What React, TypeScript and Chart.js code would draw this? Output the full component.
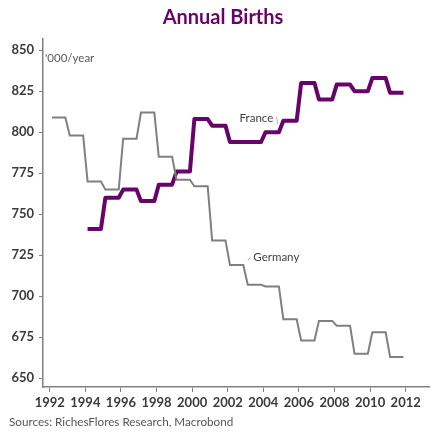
import React, { useEffect, useRef } from "react";
import { Chart, registerables } from "chart.js";

Chart.register(...registerables);

// Annual births, thousands per year
const germanyYears = [1992, 1993, 1994, 1995, 1996, 1997, 1998, 1999, 2000, 2001, 2002, 2003, 2004, 2005, 2006, 2007, 2008, 2009, 2010, 2011];
const germanyBirths = [809, 798, 770, 765, 796, 812, 785, 771, 767, 734, 719, 707, 706, 686, 673, 685, 682, 665, 678, 663];

const franceYears = [1994, 1995, 1996, 1997, 1998, 1999, 2000, 2001, 2002, 2003, 2004, 2005, 2006, 2007, 2008, 2009, 2010, 2011];
const franceBirths = [741, 760, 765, 758, 768, 776, 808, 804, 794, 794, 800, 807, 830, 820, 829, 825, 833, 824];

const yTicks = [650, 675, 700, 725, 750, 775, 800, 825, 850];
const xTicks = [1992, 1994, 1996, 1998, 2000, 2002, 2004, 2006, 2008, 2010, 2012];

// Each annual figure is held across the four quarters of its year
const quarterOffsets = [0.125, 0.375, 0.625, 0.875];
function quarterly(years: number[], values: number[]) {
  const pts: { x: number; y: number }[] = [];
  years.forEach((yr, i) => {
    quarterOffsets.forEach((q) => pts.push({ x: yr + q, y: values[i] }));
  });
  return pts;
}

const PURPLE = "#680469";
const GREY = "#808080";
const FONT = "Lato, 'Open Sans', sans-serif";

const labelsPlugin = {
  id: "labels",
  afterDraw(chart: any) {
    const { ctx, chartArea, scales } = chart;
    const x = scales.x;
    const y = scales.y;
    ctx.save();

    // Title
    ctx.fillStyle = PURPLE;
    ctx.font = `bold 20px ${FONT}`;
    ctx.textAlign = "center";
    ctx.textBaseline = "middle";
    ctx.fillText("Annual Births", 223, 18);

    // Source line
    ctx.fillStyle = "#555555";
    ctx.font = `11.7px ${FONT}`;
    ctx.textAlign = "left";
    ctx.fillText("Sources: RichesFlores Research, Macrobond", 9, 422);

    // Unit
    ctx.fillStyle = "#595959";
    ctx.font = `11.5px ${FONT}`;
    ctx.fillText("'000/year", chartArea.left + 2, chartArea.top + 19);

    // Series labels with leader lines
    ctx.font = `11.5px ${FONT}`;
    ctx.fillStyle = "#404040";
    ctx.textAlign = "right";
    ctx.fillText("France", x.getPixelForValue(2004.56), y.getPixelForValue(808.3));
    ctx.textAlign = "left";
    ctx.fillText("Germany", x.getPixelForValue(2003.44), y.getPixelForValue(723.8));

    ctx.strokeStyle = "#b0b0b0";
    ctx.lineWidth = 1;
    ctx.beginPath();
    ctx.moveTo(x.getPixelForValue(2004.75), y.getPixelForValue(809.5));
    ctx.lineTo(x.getPixelForValue(2004.8), y.getPixelForValue(805));
    ctx.moveTo(x.getPixelForValue(2003.12), y.getPixelForValue(721.9));
    ctx.lineTo(x.getPixelForValue(2003.29), y.getPixelForValue(723.7));
    ctx.stroke();

    ctx.restore();
  },
};

export default function App() {
  const canvasRef = useRef<HTMLCanvasElement | null>(null);

  useEffect(() => {
    if (!canvasRef.current) return;
    const chart = new Chart(canvasRef.current, {
      type: "line",
      data: {
        datasets: [
          {
            label: "Germany",
            data: quarterly(germanyYears, germanyBirths),
            borderColor: GREY,
            borderWidth: 2,
            pointRadius: 0,
            tension: 0,
          },
          {
            label: "France",
            data: quarterly(franceYears, franceBirths),
            borderColor: PURPLE,
            borderWidth: 4,
            pointRadius: 0,
            tension: 0,
            borderJoinStyle: "round",
          },
        ],
      },
      options: {
        responsive: false,
        animation: false,
        layout: { padding: { top: 39, left: 0, right: 2, bottom: 0 } },
        plugins: {
          legend: { display: false },
          tooltip: { enabled: false },
          title: { display: false },
        },
        scales: {
          x: {
            type: "linear",
            min: 1991.62,
            max: 2013.31,
            afterFit(scale: any) {
              scale.height = 48;
            },
            afterBuildTicks(scale: any) {
              scale.ticks = xTicks.map((v) => ({ value: v }));
            },
            ticks: {
              color: "#3a3a3a",
              font: { family: FONT, size: 13, weight: "bold" },
              padding: 3,
              maxRotation: 0,
              autoSkip: false,
              callback: (v: any) => String(v),
            },
            grid: {
              drawOnChartArea: false,
              drawTicks: true,
              tickLength: 5,
              color: GREY,
            },
            border: { color: GREY, width: 1.5 },
          },
          y: {
            type: "linear",
            min: 644.7,
            max: 856.8,
            afterFit(scale: any) {
              scale.width = 43;
            },
            afterBuildTicks(scale: any) {
              scale.ticks = yTicks.map((v) => ({ value: v }));
            },
            ticks: {
              color: "#3a3a3a",
              font: { family: FONT, size: 13, weight: "bold" },
              padding: 5,
              autoSkip: false,
            },
            grid: {
              drawOnChartArea: false,
              drawTicks: true,
              tickLength: 4,
              color: GREY,
            },
            border: { color: GREY, width: 1.5 },
          },
        },
      },
      plugins: [labelsPlugin],
    });
    return () => chart.destroy();
  }, []);

  return (
    <div style={{ position: "absolute", left: 0, top: 0, width: 431, height: 435, background: "#fff" }}>
      <canvas ref={canvasRef} width={431} height={435} style={{ display: "block" }} />
    </div>
  );
}
